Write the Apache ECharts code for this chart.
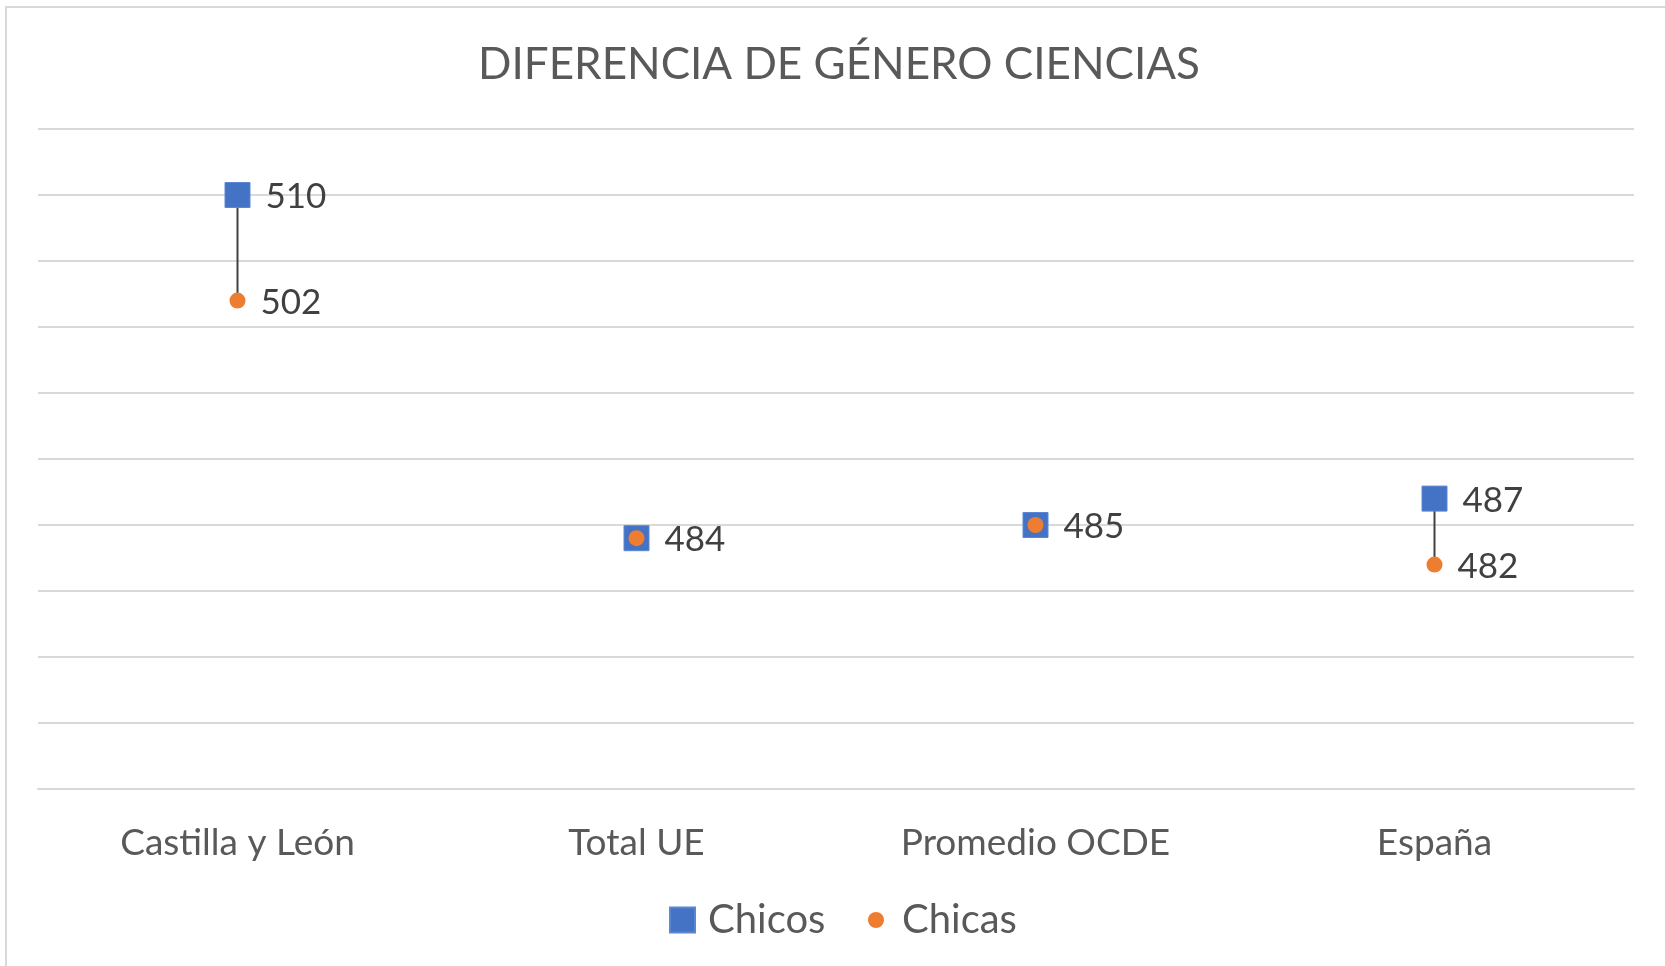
<!DOCTYPE html>
<html>
<head>
<meta charset="utf-8">
<title>Diferencia de género ciencias</title>
<script src="https://cdn.jsdelivr.net/npm/echarts@6/dist/echarts.min.js"></script>
<style>
  html, body { margin: 0; padding: 0; background: #ffffff; }
  #chart { width: 1665px; height: 966px; }
</style>
</head>
<body>
<div id="chart"></div>
<script>
// Puntuaciones en ciencias por género
const categories = ['Castilla y León', 'Total UE', 'Promedio OCDE', 'España'];
const chicos = [510, 484, 485, 487];
const chicas = [502, 484, 485, 482];

// Escala del eje vertical (sin etiquetas visibles)
const yMin = 465;
const yMax = 515;
const yStep = 5;

const FONT = 'Lato, "Open Sans", sans-serif';
const TEXT = '#595959';
const LABEL = '#404040';
const GRID = '#d9d9d9';
const BLUE = '#4472C4';
const ORANGE = '#ED7D31';

// Pares chico/chica para la línea que los une
const pairs = categories.map((c, i) => [i, chicos[i], chicas[i]]);

// Cuando ambos valores coinciden sólo se muestra una etiqueta
const chicasData = chicas.map((v, i) => ({
  value: v,
  label: { show: v !== chicos[i] }
}));

const chart = echarts.init(document.getElementById('chart'), null, { renderer: 'canvas' });

chart.setOption({
  backgroundColor: '#ffffff',
  animation: false,
  textStyle: { fontFamily: FONT },
  graphic: [{
    type: 'rect',
    silent: true,
    z: -10,
    shape: { x: 6, y: 7, width: 1720, height: 1020 },
    style: { fill: 'none', stroke: GRID, lineWidth: 2 }
  }],
  title: {
    text: 'DIFERENCIA DE GÉNERO CIENCIAS',
    left: 473,
    top: 38,
    textStyle: { fontFamily: FONT, fontSize: 44, fontWeight: 'normal', color: TEXT }
  },
  legend: [{
    data: [{ name: 'Chicos', icon: 'rect' }],
    left: 664,
    top: 895,
    itemWidth: 25,
    itemHeight: 25,
    textStyle: { fontFamily: FONT, fontSize: 40, color: TEXT, padding: [0, 0, 0, 8] }
  }, {
    data: [{ name: 'Chicas', icon: 'circle' }],
    left: 863,
    top: 895,
    itemWidth: 16,
    itemHeight: 16,
    textStyle: { fontFamily: FONT, fontSize: 40, color: TEXT, padding: [0, 0, 0, 13] }
  }],
  grid: {
    left: 38,
    right: 31,
    top: 129,
    bottom: 177,
    containLabel: false,
    outerBoundsMode: 'none'
  },
  xAxis: {
    type: 'category',
    data: categories,
    boundaryGap: true,
    axisLine: { show: true, lineStyle: { color: GRID, width: 2 } },
    axisTick: { show: false },
    splitLine: { show: false },
    axisLabel: { margin: 36, fontFamily: FONT, fontSize: 37, color: TEXT }
  },
  yAxis: {
    type: 'value',
    min: yMin,
    max: yMax,
    interval: yStep,
    axisLine: { show: false },
    axisTick: { show: false },
    axisLabel: { show: false },
    splitLine: { show: true, lineStyle: { color: GRID, width: 2 } }
  },
  series: [{
    // Línea vertical entre chicos y chicas
    type: 'custom',
    name: 'diferencia',
    silent: true,
    z: 1,
    data: pairs,
    renderItem: function (params, api) {
      const a = api.coord([api.value(0), api.value(1)]);
      const b = api.coord([api.value(0), api.value(2)]);
      return {
        type: 'line',
        shape: { x1: a[0], y1: a[1], x2: b[0], y2: b[1] },
        style: { stroke: LABEL, lineWidth: 2 }
      };
    }
  }, {
    name: 'Chicos',
    type: 'scatter',
    z: 2,
    symbol: 'rect',
    symbolSize: 25,
    data: chicos,
    itemStyle: { color: BLUE, borderColor: '#5a86d2', borderWidth: 1, opacity: 1 },
    label: {
      show: true,
      position: 'right',
      distance: 15,
      offset: [0, 2],
      fontFamily: FONT,
      fontSize: 35,
      color: LABEL
    }
  }, {
    name: 'Chicas',
    type: 'scatter',
    z: 3,
    symbol: 'circle',
    symbolSize: 16,
    data: chicasData,
    itemStyle: { color: ORANGE, opacity: 1 },
    label: {
      position: 'right',
      distance: 15,
      offset: [0, 2],
      fontFamily: FONT,
      fontSize: 35,
      color: LABEL
    }
  }]
});
</script>
</body>
</html>
